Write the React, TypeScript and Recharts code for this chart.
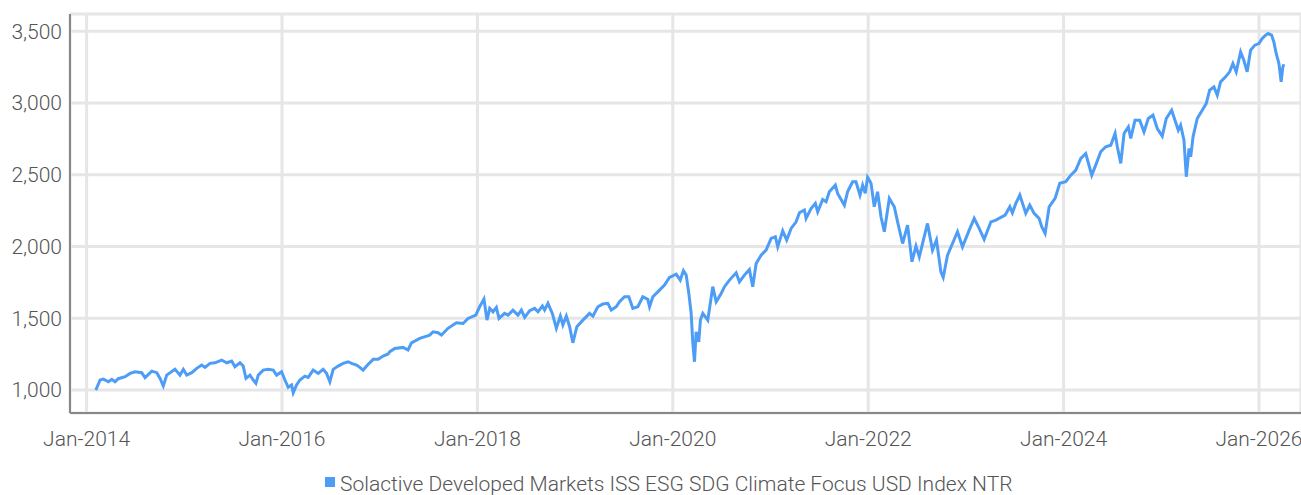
import { LineChart, Line, XAxis, YAxis, CartesianGrid, Legend } from "recharts";

const SERIES_NAME = "Solactive Developed Markets ISS ESG SDG Climate Focus USD Index NTR";
const LINE_COLOR = "#4d9df7";
const FONT = "Roboto, 'Liberation Sans', sans-serif";

// time in fractional years
const years = [
  2014.094, 2014.138, 2014.172, 2014.223, 2014.258, 2014.291, 2014.325, 2014.394, 2014.445, 2014.496,
  2014.564, 2014.598, 2014.667, 2014.718, 2014.752, 2014.785, 2014.82, 2014.905, 2014.956, 2014.99,
  2015.025, 2015.076, 2015.127, 2015.178, 2015.212, 2015.263, 2015.314, 2015.382, 2015.434, 2015.485,
  2015.518, 2015.57, 2015.603, 2015.631, 2015.672, 2015.706, 2015.733, 2015.757, 2015.808, 2015.859,
  2015.91, 2015.945, 2015.996, 2016.03, 2016.063, 2016.098, 2016.115, 2016.149, 2016.183, 2016.234,
  2016.268, 2016.319, 2016.37, 2016.421, 2016.456, 2016.49, 2016.524, 2016.575, 2016.626, 2016.677,
  2016.712, 2016.763, 2016.797, 2016.83, 2016.875, 2016.933, 2016.984, 2017.035, 2017.086, 2017.103,
  2017.154, 2017.239, 2017.29, 2017.325, 2017.41, 2017.512, 2017.546, 2017.597, 2017.632, 2017.699,
  2017.785, 2017.853, 2017.904, 2017.983, 2018.023, 2018.067, 2018.098, 2018.126, 2018.16, 2018.194,
  2018.221, 2018.279, 2018.313, 2018.364, 2018.415, 2018.45, 2018.484, 2018.535, 2018.586, 2018.62,
  2018.665, 2018.688, 2018.722, 2018.767, 2018.808, 2018.849, 2018.875, 2018.91, 2018.944, 2018.977,
  2019.018, 2019.08, 2019.148, 2019.182, 2019.233, 2019.284, 2019.335, 2019.37, 2019.421, 2019.455,
  2019.506, 2019.55, 2019.591, 2019.642, 2019.693, 2019.744, 2019.762, 2019.796, 2019.864, 2019.915,
  2019.966, 2020.035, 2020.076, 2020.109, 2020.137, 2020.164, 2020.188, 2020.204, 2020.222, 2020.239,
  2020.266, 2020.283, 2020.307, 2020.358, 2020.409, 2020.444, 2020.495, 2020.529, 2020.58, 2020.648,
  2020.682, 2020.733, 2020.784, 2020.818, 2020.853, 2020.904, 2020.955, 2021.006, 2021.05, 2021.074,
  2021.125, 2021.166, 2021.211, 2021.262, 2021.296, 2021.347, 2021.364, 2021.415, 2021.459, 2021.483,
  2021.534, 2021.569, 2021.602, 2021.664, 2021.687, 2021.756, 2021.789, 2021.84, 2021.875, 2021.916,
  2021.943, 2021.97, 2021.994, 2022.029, 2022.062, 2022.096, 2022.131, 2022.165, 2022.216, 2022.267,
  2022.301, 2022.352, 2022.403, 2022.448, 2022.489, 2022.523, 2022.607, 2022.658, 2022.699, 2022.744,
  2022.768, 2022.812, 2022.863, 2022.914, 2022.965, 2023.034, 2023.085, 2023.136, 2023.187, 2023.256,
  2023.307, 2023.402, 2023.45, 2023.476, 2023.511, 2023.552, 2023.613, 2023.654, 2023.698, 2023.749,
  2023.777, 2023.811, 2023.852, 2023.913, 2023.961, 2024.022, 2024.074, 2024.125, 2024.176, 2024.227,
  2024.288, 2024.329, 2024.38, 2024.431, 2024.483, 2024.527, 2024.55, 2024.585, 2024.619, 2024.663,
  2024.687, 2024.731, 2024.779, 2024.823, 2024.867, 2024.915, 2024.959, 2025.01, 2025.051, 2025.106,
  2025.14, 2025.174, 2025.198, 2025.232, 2025.256, 2025.284, 2025.301, 2025.325, 2025.368, 2025.419,
  2025.46, 2025.495, 2025.539, 2025.573, 2025.607, 2025.658, 2025.699, 2025.733, 2025.767, 2025.812,
  2025.845, 2025.879, 2025.914, 2025.958, 2025.999, 2026.033, 2026.068, 2026.094, 2026.129, 2026.152,
  2026.176, 2026.204, 2026.227, 2026.244, 2026.255,
];

const indexValues = [
  1000, 1070, 1076, 1058, 1075, 1058, 1079, 1093, 1116, 1127,
  1121, 1086, 1132, 1121, 1081, 1028, 1104, 1144, 1104, 1144,
  1104, 1121, 1151, 1174, 1158, 1186, 1190, 1209, 1190, 1202,
  1162, 1190, 1167, 1081, 1104, 1070, 1047, 1104, 1139, 1144,
  1139, 1104, 1127, 1070, 1019, 1035, 981, 1035, 1070, 1097,
  1088, 1139, 1116, 1144, 1116, 1058, 1144, 1167, 1186, 1197,
  1186, 1174, 1158, 1139, 1174, 1214, 1214, 1237, 1251, 1267,
  1290, 1297, 1279, 1329, 1360, 1383, 1406, 1399, 1383, 1430,
  1469, 1464, 1499, 1522, 1580, 1634, 1487, 1569, 1545, 1576,
  1499, 1534, 1522, 1557, 1522, 1557, 1506, 1553, 1569, 1545,
  1585, 1557, 1604, 1534, 1430, 1515, 1453, 1515, 1441, 1329,
  1441, 1487, 1534, 1515, 1580, 1599, 1604, 1557, 1580, 1615,
  1650, 1650, 1569, 1580, 1650, 1632, 1580, 1650, 1696, 1731,
  1785, 1808, 1766, 1831, 1801, 1673, 1534, 1336, 1197, 1406,
  1336, 1490, 1534, 1487, 1720, 1615, 1673, 1720, 1766, 1817,
  1754, 1801, 1840, 1720, 1882, 1940, 1975, 2056, 2068, 1998,
  2109, 2045, 2126, 2172, 2235, 2254, 2196, 2265, 2300, 2242,
  2328, 2312, 2381, 2428, 2370, 2288, 2381, 2451, 2451, 2358,
  2428, 2370, 2482, 2440, 2277, 2381, 2207, 2103, 2335, 2277,
  2172, 2021, 2149, 1894, 2003, 1928, 2161, 1975, 2045, 1824,
  1785, 1940, 2021, 2103, 1998, 2114, 2196, 2126, 2050, 2172,
  2184, 2219, 2277, 2235, 2300, 2358, 2231, 2288, 2231, 2196,
  2137, 2091, 2277, 2335, 2440, 2451, 2497, 2532, 2614, 2648,
  2497, 2567, 2660, 2695, 2706, 2788, 2695, 2579, 2788, 2834,
  2753, 2880, 2880, 2799, 2892, 2915, 2822, 2769, 2892, 2950,
  2880, 2810, 2845, 2741, 2486, 2683, 2625, 2764, 2892, 2950,
  2996, 3089, 3112, 3054, 3147, 3182, 3217, 3275, 3217, 3356,
  3298, 3217, 3368, 3403, 3414, 3449, 3473, 3484, 3473, 3426,
  3345, 3275, 3147, 3252, 3270,
];

const xTicks = [2014, 2016, 2018, 2020, 2022, 2024, 2026];
const yTicks = [1000, 1500, 2000, 2500, 3000, 3500];

const rows = years.map((t, i) => ({ t, value: indexValues[i] }));

const tickStyle = { fill: "#555", fontSize: 21, fontFamily: FONT, fontWeight: 300 };

function LegendContent() {
  return (
    <div
      style={{
        display: "flex",
        alignItems: "flex-start",
        height: 37,
        boxSizing: "border-box",
        paddingTop: 16,
        paddingLeft: 325,
        fontFamily: FONT,
        fontWeight: 300,
        fontSize: 21,
        lineHeight: "21px",
        color: "#555",
        whiteSpace: "nowrap",
      }}
    >
      <span style={{ width: 10, height: 10, background: LINE_COLOR, marginTop: 3, marginRight: 5, flex: "none" }} />
      <span>{SERIES_NAME}</span>
    </div>
  );
}

export default function App() {
  return (
    <div style={{ position: "absolute", left: 0, top: 0, background: "#fff" }}>
      <LineChart width={1301} height={495} data={rows} margin={{ top: 14, right: 0, bottom: 0, left: 0 }}>
        <CartesianGrid stroke="#e6e6e6" strokeWidth={3} />
        <XAxis
          dataKey="t"
          type="number"
          domain={[2013.83, 2026.43]}
          allowDataOverflow
          ticks={xTicks}
          tickFormatter={(v) => `Jan-${v}`}
          tick={tickStyle}
          tickLine={false}
          tickMargin={12}
          height={45}
          axisLine={{ stroke: "#888", strokeWidth: 2 }}
          interval={0}
        />
        <YAxis
          type="number"
          domain={[840, 3620]}
          allowDataOverflow
          ticks={yTicks}
          tickFormatter={(v) => v.toLocaleString("en-US")}
          tick={tickStyle}
          tickLine={false}
          width={70}
          axisLine={{ stroke: "#888", strokeWidth: 2 }}
        />
        <Legend verticalAlign="bottom" content={<LegendContent />} wrapperStyle={{ height: 37 }} />
        <Line
          dataKey="value"
          name={SERIES_NAME}
          type="linear"
          stroke={LINE_COLOR}
          strokeWidth={3}
          dot={false}
          isAnimationActive={false}
        />
      </LineChart>
    </div>
  );
}
